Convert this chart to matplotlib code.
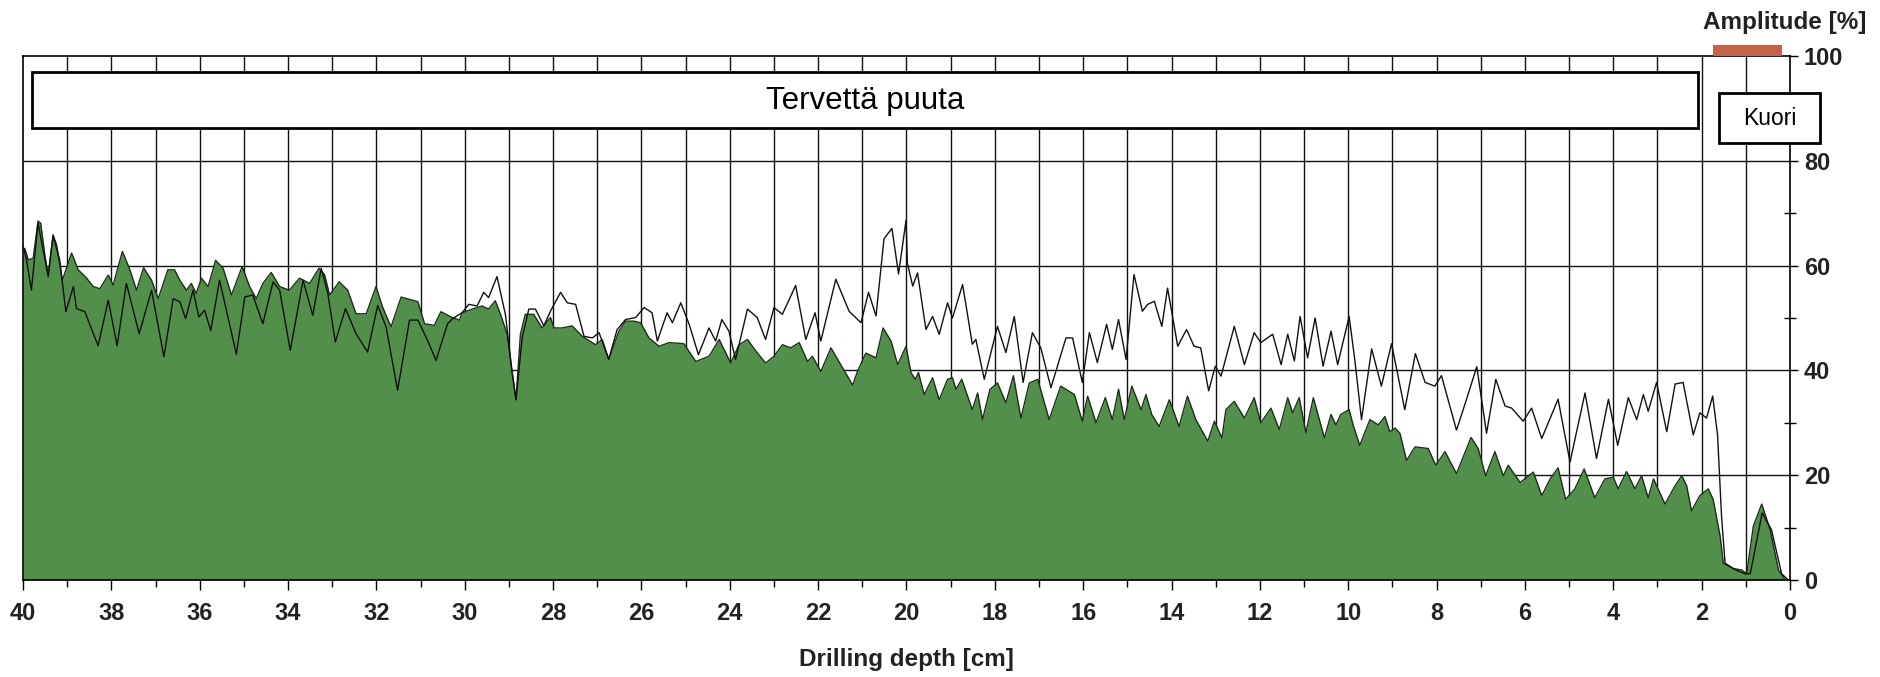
import matplotlib
matplotlib.use("Agg")
import matplotlib.pyplot as plt
from matplotlib.patches import Rectangle
from matplotlib.ticker import MultipleLocator

plt.rcParams['font.family'] = ['Liberation Sans', 'DejaVu Sans']

# green area (feed / drilling resistance), depth in cm -> amplitude in %
feed_depth = [
    40.0, 39.96, 39.88, 39.77, 39.66, 39.6, 39.5, 39.43, 39.32, 39.24, 39.11, 38.9, 38.75, 38.56,
    38.41, 38.26, 38.07, 37.96, 37.75, 37.58, 37.43, 37.27, 37.09, 36.94, 36.72, 36.57, 36.45,
    36.3, 36.19, 36.08, 35.96, 35.81, 35.64, 35.47, 35.28, 35.04, 34.87, 34.72, 34.57, 34.38,
    34.19, 33.97, 33.74, 33.51, 33.3, 33.17, 33.06, 32.84, 32.65, 32.46, 32.23, 32.01, 31.86,
    31.67, 31.44, 31.06, 30.91, 30.69, 30.54, 30.31, 30.12,
    30.06, 29.83, 29.61, 29.46, 29.31, 29.19, 29.04, 28.93, 28.84, 28.74, 28.63, 28.44, 28.25,
    28.06, 27.98, 27.79, 27.57, 27.34, 27.04, 26.89, 26.74, 26.51, 26.36, 26.17, 26.02, 25.83,
    25.6, 25.38, 25.04, 24.77, 24.47, 24.24, 23.98, 23.79, 23.6, 23.41, 23.19, 23.0, 22.81,
    22.62, 22.43, 22.24, 22.13, 21.94, 21.71, 21.49, 21.22, 21.11, 20.92, 20.69, 20.53, 20.35,
    20.2, 20.01,
    19.9, 19.8, 19.73, 19.6, 19.41, 19.26, 19.07, 18.96, 18.88, 18.75, 18.51, 18.39, 18.28,
    18.11, 17.94, 17.75, 17.58, 17.41, 17.22, 17.03, 16.77, 16.51, 16.2, 16.02, 15.9, 15.71,
    15.5, 15.34, 15.2, 15.07, 14.9, 14.69, 14.58, 14.45, 14.28, 14.05, 13.83, 13.64, 13.45,
    13.18, 13.03, 12.86, 12.77, 12.58, 12.35, 12.13, 11.98, 11.75, 11.56, 11.37, 11.26, 11.11,
    10.96, 10.79, 10.54, 10.39, 10.28, 10.17, 9.98,
    9.89, 9.74, 9.51, 9.32, 9.17, 9.06, 8.94, 8.83, 8.68, 8.49, 8.19, 8.02, 7.81, 7.55, 7.22,
    7.06, 6.89, 6.68, 6.49, 6.38, 6.11, 5.81, 5.62, 5.43, 5.25, 5.08, 4.87, 4.66, 4.42, 4.19,
    4.0, 3.89, 3.7, 3.51, 3.36, 3.21, 3.09, 2.83, 2.6, 2.45, 2.34, 2.23, 2.04, 1.85, 1.74,
    1.58, 1.51, 1.28, 1.09, 0.98, 0.83, 0.64, 0.45, 0.26, 0.11, 0.0,
]
feed_amp = [
    62.0, 63.3, 61.1, 61.4, 68.5, 68.1, 61.7, 58.2, 65.9, 64.0, 57.2, 62.4, 59.2, 57.6,
    56.0, 55.6, 58.2, 56.3, 62.7, 59.2, 55.3, 59.6, 57.2, 53.7, 59.2, 59.2, 57.2,
    55.3, 56.6, 54.7, 57.6, 56.0, 61.0, 59.5, 54.4, 59.8, 56.0, 53.7, 56.6, 58.7,
    56.0, 55.3, 57.6, 56.6, 59.5, 58.2, 54.4, 56.9, 55.3, 50.8, 50.8, 56.0, 52.1,
    48.3, 54.0, 53.1, 48.9, 48.6, 51.2, 50.2, 49.6,
    51.0, 51.7, 52.3, 51.7, 53.3, 50.7, 46.9, 39.8, 34.4, 46.9, 50.7, 50.7, 48.1,
    50.1, 48.1, 48.1, 48.5, 46.5, 44.9, 45.9, 42.1, 47.5, 49.4, 49.4, 49.1, 46.2,
    44.6, 45.3, 45.1, 41.7, 42.7, 45.9, 41.4, 44.9, 45.9, 43.7, 41.4, 42.7, 44.9,
    44.3, 45.3, 41.7, 42.7, 39.8, 44.3, 41.1, 37.2, 39.8, 43.3, 42.4, 48.1, 45.6,
    41.1, 44.6,
    39.6, 38.3, 39.6, 35.4, 38.6, 34.4, 38.3, 38.6, 36.4, 38.3, 32.5, 35.7, 30.6,
    36.4, 37.6, 33.8, 39.0, 30.9, 37.6, 38.3, 30.6, 37.0, 35.4, 30.3, 35.1, 30.0,
    34.8, 30.6, 36.4, 30.6, 37.0, 32.5, 35.4, 31.6, 29.3, 34.4, 29.3, 35.1, 30.6,
    26.5, 30.3, 27.1, 32.5, 34.1, 30.9, 34.8, 30.0, 32.8, 28.7, 34.8, 31.9, 34.8,
    28.1, 34.8, 27.1, 31.6, 29.6, 31.6, 32.5,
    29.6, 25.7, 30.6, 29.6, 31.2, 28.3, 29.0, 28.0, 22.8, 25.4, 25.1, 21.9, 24.5, 20.3, 27.2,
    25.1, 19.9, 24.5, 19.9, 21.9, 18.6, 20.6, 16.1, 19.3, 21.4, 15.4, 17.4, 21.2, 15.7, 19.3,
    19.6, 17.4, 20.7, 17.4, 19.9, 15.7, 19.3, 14.5, 18.0, 19.9, 18.0, 13.2, 16.1, 17.4, 15.4,
    8.3, 3.2, 2.2, 1.9, 1.2, 10.3, 14.5, 9.6, 1.9, 0.1, 0.0,
]

# black line (torque curve)
torque_depth = [
    40.0, 39.92, 39.81, 39.66, 39.43, 39.32, 39.17, 39.03, 38.86, 38.79, 38.6, 38.3, 38.07,
    37.87, 37.66, 37.37, 37.09, 36.81, 36.6, 36.45, 36.32, 36.15, 36.02, 35.89, 35.75, 35.55,
    35.17, 34.98, 34.8, 34.57, 34.34, 34.19, 33.95, 33.66, 33.44, 33.25, 33.1, 32.93, 32.7,
    32.46, 32.2, 31.97, 31.78, 31.52, 31.25, 31.06, 30.84, 30.65, 30.39, 30.27,
    30.06, 29.91, 29.72, 29.57, 29.46, 29.27, 29.08, 28.93, 28.84, 28.7, 28.55, 28.4, 28.21,
    28.06, 27.83, 27.68, 27.49, 27.3, 27.11, 26.96, 26.74, 26.55, 26.36, 26.13, 25.94, 25.76,
    25.64, 25.42, 25.3, 25.11, 24.92, 24.71, 24.47, 24.32, 24.18, 24.02, 23.87, 23.6, 23.38,
    23.19, 23.0, 22.81, 22.51, 22.28, 22.07, 21.94, 21.6, 21.3, 21.03, 20.86, 20.69, 20.51,
    20.33, 20.18, 20.01,
    19.98, 19.86, 19.75, 19.56, 19.41, 19.26, 19.07, 18.96, 18.73, 18.51, 18.43, 18.24, 17.94,
    17.75, 17.56, 17.36, 17.15, 16.96, 16.73, 16.39, 16.24, 16.02, 15.86, 15.68, 15.47, 15.34,
    15.2, 15.03, 14.85, 14.66, 14.54, 14.39, 14.22, 14.09, 13.86, 13.66, 13.49, 13.34, 13.16,
    13.01, 12.88, 12.58, 12.35, 12.13, 11.98, 11.71, 11.52, 11.37, 11.22, 11.09, 10.92, 10.75,
    10.57, 10.39, 10.24, 9.98,
    9.85, 9.7, 9.47, 9.25, 9.02, 8.72, 8.48, 8.26, 8.04, 7.89, 7.55, 7.36, 7.09, 6.87, 6.66,
    6.45, 6.3, 6.04, 5.85, 5.62, 5.25, 4.98, 4.64, 4.38, 4.11, 3.9, 3.66, 3.47, 3.32, 3.21,
    3.02, 2.79, 2.6, 2.42, 2.19, 2.04, 1.89, 1.75, 1.64, 1.55, 1.47, 1.25, 1.02, 0.9, 0.63,
    0.42, 0.19, 0.04,
]
torque_amp = [
    63.7, 61.1, 55.3, 68.1, 57.9, 65.6, 61.1, 51.2, 56.0, 51.8, 51.2, 44.7, 53.4,
    44.7, 56.6, 47.0, 55.3, 42.6, 53.7, 53.1, 49.9, 55.3, 50.2, 51.5, 47.6, 57.2,
    43.1, 54.0, 54.4, 48.9, 56.9, 55.3, 43.8, 57.2, 50.5, 59.5, 54.7, 45.4, 51.8,
    47.0, 43.5, 52.4, 48.3, 36.2, 49.6, 49.6, 45.7, 41.9, 48.9, 49.9,
    51.0, 52.6, 52.3, 54.9, 53.9, 57.9, 50.7, 39.8, 34.4, 46.2, 51.7, 51.7, 48.5,
    51.3, 54.9, 52.9, 52.6, 46.5, 46.2, 47.2, 42.1, 47.8, 49.7, 50.1, 52.0, 51.0,
    45.6, 51.0, 49.1, 52.9, 48.8, 43.0, 48.1, 45.6, 49.7, 47.5, 42.1, 51.7, 50.1,
    45.9, 52.0, 50.7, 56.2, 45.9, 51.0, 45.6, 57.4, 51.3, 49.1, 54.9, 50.4, 65.1,
    67.1, 58.4, 68.7,
    60.5, 56.1, 58.6, 47.8, 50.3, 46.9, 52.9, 50.0, 56.4, 45.0, 45.9, 38.3, 48.4,
    43.4, 50.3, 37.7, 47.2, 44.3, 36.7, 46.2, 46.2, 37.7, 47.2, 41.5, 48.8, 44.0,
    49.7, 42.1, 58.3, 51.3, 52.6, 53.2, 48.4, 55.7, 44.6, 47.8, 44.6, 44.3, 36.1,
    40.8, 38.9, 48.4, 41.1, 47.2, 45.3, 46.9, 41.1, 46.9, 41.8, 50.3, 42.4, 50.0,
    40.8, 47.5, 41.1, 50.3,
    41.9, 30.6, 44.1, 37.0, 45.1, 32.5, 43.2, 37.7, 37.0, 39.0, 28.6, 33.5, 40.7, 28.0, 38.3,
    33.2, 32.8, 30.3, 32.8, 27.0, 34.5, 22.5, 35.7, 23.2, 34.5, 25.7, 34.8, 30.6, 35.4, 32.2,
    37.7, 28.3, 37.4, 37.7, 27.7, 31.9, 30.9, 35.1, 27.7, 12.2, 3.2, 2.0, 1.2, 1.2, 12.8,
    9.6, 1.2, 0.0,
]

y_ticks = [0, 20, 40, 60, 80, 100]
x_ticks = list(range(0, 41, 2))

fig = plt.figure(figsize=(18.8, 6.77), dpi=100)
ax = fig.add_axes([23 / 1880, 97 / 677, 1767 / 1880, 524 / 677])
ax.set_xlim(40, 0)
ax.set_ylim(0, 100)

# grid lines behind the curves
ax.vlines(range(1, 40), 0, 100, color='#111111', lw=1.0, zorder=1)
ax.hlines([20, 40, 60, 80], 40, 0, color='#111111', lw=1.0, zorder=1)

ax.fill_between(feed_depth, feed_amp, 0, color='#528f4a', lw=0, zorder=2)
ax.plot(feed_depth, feed_amp, color='#1f2d1c', lw=1.0, zorder=3,
        solid_joinstyle='round')
ax.plot(torque_depth, torque_amp, color='#111111', lw=1.0, zorder=4,
        solid_joinstyle='round')

for s in ax.spines.values():
    s.set_linewidth(1.2)

ax.yaxis.tick_right()
ax.set_yticks(y_ticks)
ax.yaxis.set_minor_locator(MultipleLocator(10))
ax.tick_params(axis='y', which='major', direction='out', length=6, width=1.0, pad=4, labelsize=17)
ax.tick_params(axis='y', which='minor', direction='inout', length=8, width=1.0)
ax.set_xticks(x_ticks)
ax.xaxis.set_minor_locator(MultipleLocator(1))
ax.tick_params(axis='x', which='major', direction='out', length=7.5, width=1.0, pad=8, labelsize=17)
ax.tick_params(axis='x', which='minor', direction='out', length=5, width=1.0)
for lab in ax.get_xticklabels() + ax.get_yticklabels():
    lab.set_fontweight('bold')
    lab.set_color('#222222')

ax.set_xlabel('Drilling depth [cm]', fontsize=17.5, fontweight='bold', color='#222222', labelpad=17)

# zone boxes
ax.add_patch(Rectangle((2.08, 86.2), 37.72, 10.7, facecolor='white', edgecolor='black',
                       lw=2.0, zorder=5))
ax.text(20.94, 91.5, 'Tervettä puuta', ha='center', va='center', fontsize=22.5, zorder=6)
ax.add_patch(Rectangle((-0.68, 83.4), 2.29, 9.5, facecolor='white', edgecolor='black',
                       lw=2.0, zorder=5, clip_on=False))
ax.text(0.465, 88.1, 'Kuori', ha='center', va='center', fontsize=16.5, zorder=6)

# amplitude bar marker
ax.add_patch(Rectangle((0.18, 100), 1.57, 2.1, facecolor='#c4634c', edgecolor='none',
                       zorder=5, clip_on=False))
fig.text(1866 / 1880, 1 - 22 / 677, 'Amplitude [%]', ha='right', va='center',
         fontsize=17.5, fontweight='bold', color='#222222')

fig.savefig('out.png', dpi=100)
